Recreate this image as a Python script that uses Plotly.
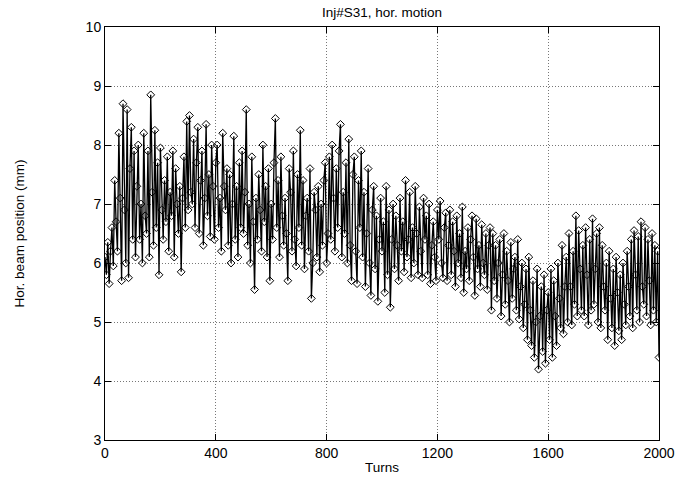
import plotly.graph_objects as go

# turn number of each sample (every 5 turns, 0..2000)
turns = list(range(0, 2001, 5))

# horizontal beam position (mm)
pos_mm = [
    6.10, 5.80, 6.35, 5.65, 6.20, 6.60, 5.95, 7.40, 6.70, 6.20, 8.20, 7.10, 5.70, 8.70, 6.90, 6.00, 8.60, 5.75, 7.60, 8.30,
    6.40, 7.90, 6.10, 7.30, 8.00, 6.40, 7.00, 6.00, 8.20, 6.80, 6.50, 7.90, 6.10, 8.85, 7.20, 6.30, 8.25, 6.60, 7.70, 5.80,
    7.95, 6.90, 6.40, 7.40, 6.70, 7.80, 6.20, 7.20, 6.80, 7.90, 6.10, 7.60, 7.00, 6.50, 7.30, 5.85, 7.10, 7.80, 6.60, 8.40,
    6.90, 8.50, 7.20, 7.00, 8.10, 6.60, 7.70, 8.30, 6.50, 7.40, 7.90, 6.30, 7.10, 8.35, 6.80, 7.50, 6.45, 8.00, 7.30, 6.40,
    7.70, 8.00, 6.60, 7.10, 6.20, 8.20, 7.30, 6.90, 7.60, 6.30, 7.50, 6.00, 7.00, 8.15, 6.40, 7.30, 6.10, 7.70, 6.60, 7.90,
    6.50, 7.20, 8.60, 6.30, 7.00, 6.00, 7.80, 6.70, 5.55, 7.10, 6.40, 7.50, 6.90, 6.20, 8.00, 6.70, 7.30, 6.10, 7.60, 5.70,
    7.00, 6.40, 7.70, 8.45, 6.60, 7.40, 6.10, 7.80, 6.80, 6.30, 7.10, 6.50, 5.70, 7.60, 7.20, 6.20, 7.90, 6.40, 5.95, 7.50,
    6.60, 8.25, 6.30, 7.40, 5.90, 6.80, 7.10, 6.20, 7.60, 5.40, 6.00, 7.20, 6.90, 6.10, 7.30, 5.85, 7.00, 6.30, 7.40, 7.70,
    6.00, 6.50, 7.80, 6.40, 8.00, 7.10, 6.20, 7.60, 6.60, 7.90, 8.35, 6.10, 7.20, 6.50, 7.70, 6.00, 8.10, 6.30, 5.70, 7.50,
    7.80, 6.20, 5.65, 7.40, 6.60, 7.90, 6.10, 7.20, 5.60, 6.50, 7.60, 6.00, 5.45, 6.90, 7.30, 5.90, 6.80, 5.35, 6.40, 7.10,
    6.20, 6.70, 5.50, 7.30, 5.80, 6.90, 5.25, 6.40, 7.00, 5.90, 6.80, 6.30, 5.70, 7.10, 6.20, 6.70, 5.85, 7.40, 6.10, 6.40,
    7.20, 5.75, 6.60, 6.00, 7.30, 6.50, 5.80, 6.95, 6.20, 5.75, 7.10, 6.40, 6.80, 5.80, 7.00, 5.65, 6.30, 6.70, 6.10, 5.70,
    6.90, 6.40, 7.05, 6.00, 5.75, 6.60, 6.85, 5.70, 6.30, 6.90, 5.80, 6.70, 6.20, 5.60, 6.80, 6.00, 6.50, 5.75, 6.95, 5.50,
    6.20, 5.90, 6.60, 5.70, 6.40, 6.80, 6.10, 5.45, 6.75, 5.90, 6.30, 5.60, 6.65, 6.00, 5.80, 6.50, 5.55, 6.30, 6.60, 5.20,
    6.50, 5.70, 6.30, 5.40, 6.00, 6.40, 5.10, 5.80, 6.50, 5.30, 6.20, 5.70, 5.00, 6.35, 5.40, 5.90, 6.10, 5.20, 6.40, 5.05,
    5.60, 6.00, 4.90, 5.30, 5.90, 4.70, 6.10, 5.20, 4.60, 5.70, 4.40, 5.00, 5.90, 4.20, 5.10, 5.60, 4.50, 5.80, 4.30, 5.20,
    5.50, 4.70, 5.90, 4.40, 5.70, 5.10, 4.60, 6.00, 5.40, 4.90, 6.30, 4.80, 5.60, 6.10, 5.00, 6.50, 5.60, 4.95, 6.20, 5.30,
    6.80, 5.10, 6.55, 5.90, 5.20, 6.30, 5.10, 6.60, 5.80, 4.95, 6.40, 5.20, 6.75, 5.30, 5.90, 6.50, 5.00, 6.60, 4.90, 6.30,
    5.60, 5.20, 6.00, 4.70, 6.20, 5.40, 4.90, 5.90, 4.60, 6.10, 5.50, 4.85, 5.80, 4.70, 6.00, 5.30, 4.95, 6.20, 5.60, 5.10,
    6.40, 4.90, 6.55, 5.80, 5.20, 6.45, 5.00, 6.70, 5.60, 5.30, 6.60, 5.10, 6.40, 5.70, 4.95, 6.50, 5.20, 6.30, 5.00, 6.20,
    4.40,
]

x_ticks = [0, 400, 800, 1200, 1600, 2000]
y_ticks = [3, 4, 5, 6, 7, 8, 9, 10]

fig = go.Figure()
fig.add_trace(go.Scatter(
    x=turns, y=pos_mm, mode='lines+markers',
    line=dict(color='black', width=1.3),
    marker=dict(symbol='diamond-open', size=6, color='black', line=dict(width=1)),
    showlegend=False,
))

axis_common = dict(
    showline=True, linecolor='black', linewidth=1, mirror='ticks',
    ticks='inside', ticklen=6, tickcolor='black',
    showgrid=True, gridcolor='#777', griddash='1px,2px', gridwidth=1,
    zeroline=False, automargin=False,
    tickfont=dict(family='Liberation Sans, Arial', size=14, color='black'),
)

fig.update_layout(
    width=676, height=483,
    margin=dict(l=105, r=17, t=27, b=43),
    paper_bgcolor='white', plot_bgcolor='white',
    title=dict(text='Inj#S31, hor. motion', x=(105 + 659) / 2 / 676, xanchor='center',
               y=1 - 12 / 483, yanchor='middle',
               font=dict(family='Liberation Sans, Arial', size=13.5, color='black')),
    font=dict(family='Liberation Sans, Arial', color='black'),
    xaxis=dict(axis_common, range=[0, 2000], tickvals=x_ticks,
               title=dict(text='Turns', standoff=2, font=dict(size=13.5))),
    yaxis=dict(axis_common, range=[3, 10], tickvals=y_ticks,
               title=dict(text='Hor. beam position (mm)', standoff=57, font=dict(size=13.5))),
)

# drop the default 8px page margin so the figure sits at the window's corner
fig.write_html("out.html", config={'displayModeBar': False},
               post_script="document.body.style.margin='0px';document.body.style.overflow='hidden';")
